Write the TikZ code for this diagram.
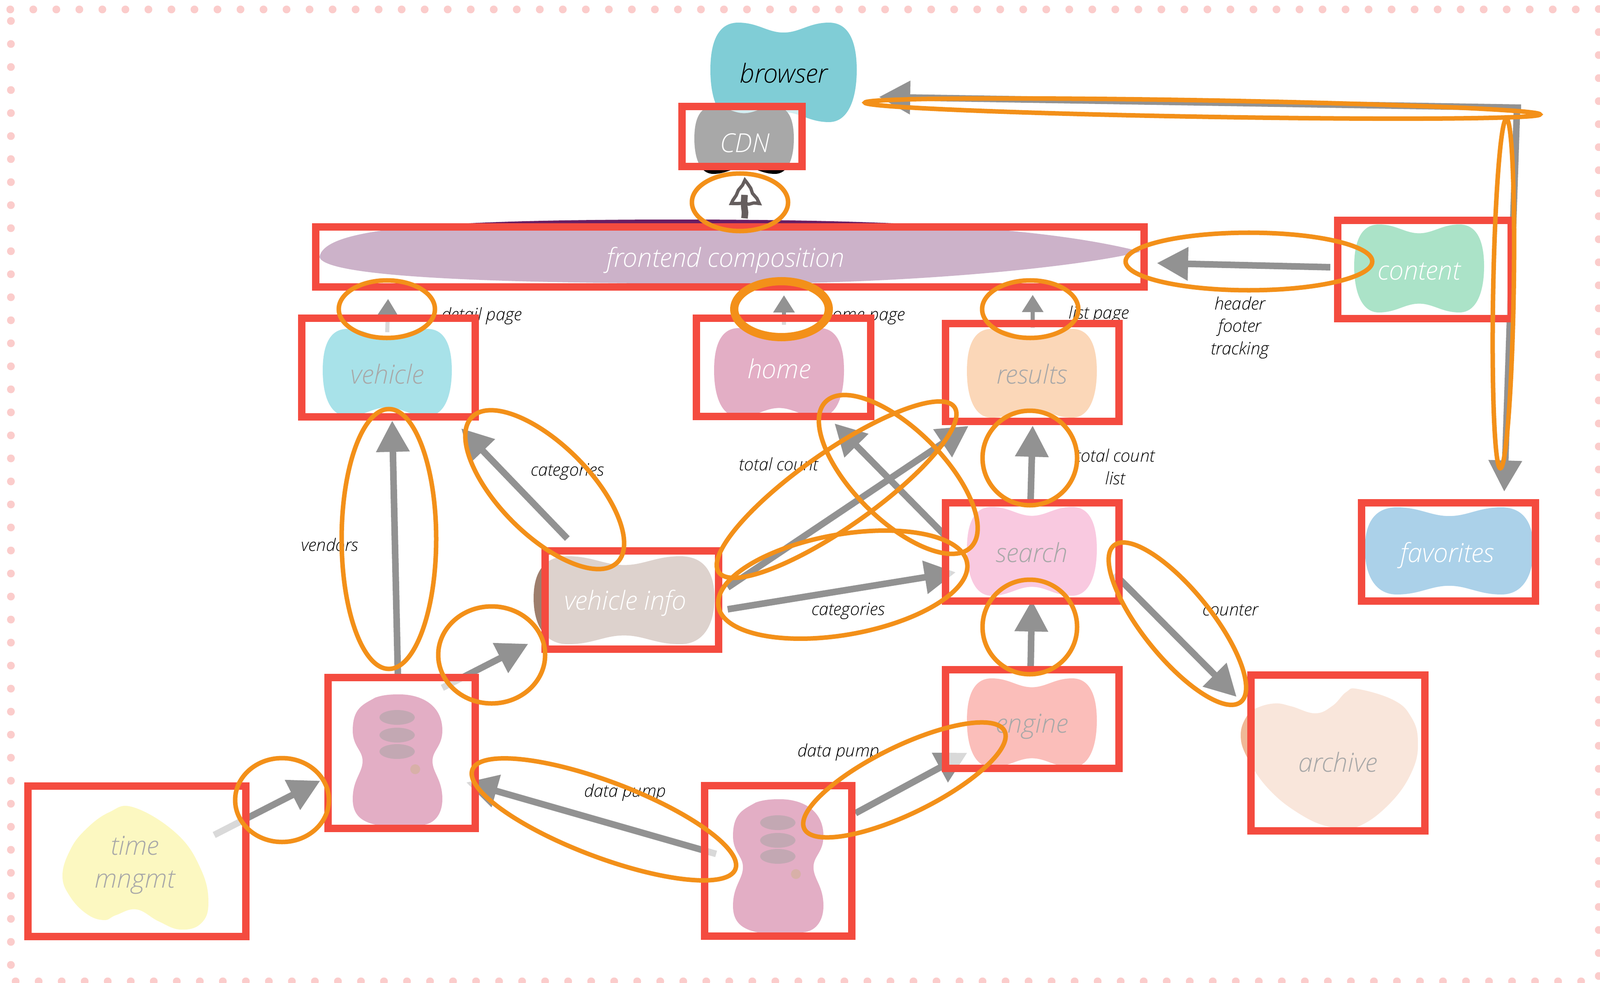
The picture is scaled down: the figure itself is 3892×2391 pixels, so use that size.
\documentclass[tikz,border=0pt]{standalone}
\usepackage{fontspec}
\setmainfont[ItalicFont={Open Sans Light Italic}]{Open Sans Light}
\usetikzlibrary{arrows.meta,shapes.geometric,decorations.pathmorphing}
\definecolor{redb}{HTML}{F44B3F}
\definecolor{orng}{HTML}{F39019}
\definecolor{gra}{HTML}{929292}
\definecolor{dotc}{HTML}{FBCCCB}
\definecolor{hand}{HTML}{655E5E}
\definecolor{cBrowser}{HTML}{80CDD6}
\definecolor{cFront}{HTML}{6A1F63}
\definecolor{cVehicle}{HTML}{00ACC1}
\definecolor{cHome}{HTML}{AD1457}
\definecolor{cResults}{HTML}{F58A2F}
\definecolor{cSearch}{HTML}{EE61A5}
\definecolor{cEngine}{HTML}{F44336}
\definecolor{cInfo}{HTML}{9E7E6D}
\definecolor{cContent}{HTML}{09AE5E}
\definecolor{cFav}{HTML}{0979C0}
\definecolor{cArchive}{HTML}{EFB897}
\definecolor{cTime}{HTML}{F7EB4C}
\definecolor{cPill}{HTML}{520023}
\definecolor{cSpot}{HTML}{8D1800}
\tikzset{
  redbox/.style={draw=redb,line width=.18cm,fill=white,fill opacity=.66,inner sep=0pt,outer sep=0pt,rectangle},
  hlell/.style={draw=orng,line width=.11cm,ellipse,inner sep=0pt,outer sep=0pt},
  arr/.style={draw=gra,line width=.16cm,-{Triangle[length=.76cm,width=.78cm]}},
  smallarr/.style={draw=gra,line width=.1cm,-{Triangle[length=.42cm,width=.5cm]}},
  lab/.style={font=\fontsize{11.9}{15.6}\selectfont\itshape,align=center,inner sep=0pt,text=black},
  big/.style={font=\fontsize{18.1}{22.5}\selectfont\itshape,align=center,inner sep=0pt},
  handline/.style={draw=hand,decorate,decoration={random steps,segment length=4pt,amplitude=.5pt}},
}
\newcommand\hbone[5]{\begin{scope}[shift={(#2,#3)},x=#4*0.01cm,y=-#5*0.01cm]
 \fill[#1] (0,-.8) .. controls (.22,-.8) and (.35,-1) .. (.62,-1) .. controls (.88,-1) and (1,-.65) .. (1,-.05)
 .. controls (1,.55) and (.88,1) .. (.62,1) .. controls (.35,1) and (.22,.8) .. (0,.8)
 .. controls (-.22,.8) and (-.35,1) .. (-.62,1) .. controls (-.88,1) and (-1,.55) .. (-1,-.05)
 .. controls (-1,-.65) and (-.88,-1) .. (-.62,-1) .. controls (-.35,-1) and (-.22,-.8) .. (0,-.8) -- cycle;
 \end{scope}}
\newcommand\vbone[5]{\begin{scope}[shift={(#2,#3)},x=#4*0.01cm,y=-#5*0.01cm]
 \fill[#1] (.05,-1) .. controls (.5,-1) and (1,-.85) .. (1,-.45) .. controls (1,-.2) and (.78,-.15) .. (.78,0.02)
 .. controls (.78,.2) and (1,.3) .. (1,.6) .. controls (1,.85) and (.8,1) .. (.5,1)
 -- (-.45,1) .. controls (-.8,.95) and (-1,.85) .. (-1,.6) .. controls (-1,.3) and (-.78,.2) .. (-.78,0.02)
 .. controls (-.78,-.15) and (-1,-.2) .. (-1,-.45) .. controls (-1,-.8) and (-.75,-.85) .. (-.5,-.95) .. controls (-.3,-1) and (-.1,-1) .. (.05,-1) -- cycle;
 \end{scope}}
\newcommand\bx[5]{\pgfmathsetmacro\bcx{(#2+#4)/2}\pgfmathsetmacro\bcy{(#3+#5)/2}%
 \pgfmathsetmacro\bw{(#4-#2-18)*0.01}\pgfmathsetmacro\bh{(#5-#3-18)*0.01}%
 \node[redbox,minimum width=\bw cm,minimum height=\bh cm] (#1) at (\bcx,\bcy) {};}
\newcommand\hl[7][]{\pgfmathsetmacro\bw{2*#5*0.01}\pgfmathsetmacro\bh{2*#6*0.01}%
 \node[hlell,minimum width=\bw cm,minimum height=\bh cm,rotate=#7,#1] (#2) at (#3,#4) {};}
\newcommand\conn[6][arr]{\coordinate (#2a) at (#3,#4); \coordinate (#2b) at (#5,#6);
 \draw[#1] (#2a) -- (#2b);}
\begin{document}
\begin{tikzpicture}[x=.01cm,y=-.01cm]
\useasboundingbox (0,0) rectangle (3892,2391);
% dotted frame
\foreach \k in {0,...,68} {\fill[dotc] ({25+56*\k},23) circle[radius=9.5];}
\foreach \k in {0,...,68} {\fill[dotc] ({38+56*\k},2387) circle[radius=9.5];}
\foreach \k in {0,...,41} {\fill[dotc] (26.5,{51+56*\k}) circle[radius=9.5];}
\foreach \k in {0,...,42} {\fill[dotc] (3889,{22+56*\k}) circle[radius=9.5];}
% blobs
\hbone{cBrowser}{1906}{176}{178}{121}
\hbone{black}{1810}{341}{121}{82}
\fill[cFront] (777,625) .. controls (790,560) and (1000,534) .. (1650,534) .. controls (2200,534) and (2550,555) .. (2775,612)
 .. controls (2650,645) and (2250,690) .. (1800,690) .. controls (1300,690) and (790,680) .. (777,625) -- cycle;
\hbone{cVehicle}{942}{906}{157}{106}
\hbone{cHome}{1895}{906}{158}{108}
\hbone{cResults}{2510}{908}{158}{108}
\hbone{cSearch}{2510}{1341}{158}{108}
\hbone{cEngine}{2510}{1758}{158}{108}
\hbone{cInfo}{1518}{1460}{220}{107}
\hbone{cContent}{3452}{653}{158}{107}
\hbone{cFav}{3525}{1340}{205}{106}
\fill[cArchive] plot[smooth cycle,tension=.7] coordinates {(3304,1676) (3390,1703) (3432,1743) (3449,1800) (3436,1873) (3382,1953) (3302,2011) (3233,2011) (3157,1977) (3084,1917) (3034,1843) (3018,1787) (3034,1740) (3057,1722) (3101,1711) (3141,1718) (3199,1735) (3241,1717) (3275,1683)};
\fill[cTime] plot[smooth cycle,tension=.7] coordinates {(326,1964) (431,2029) (489,2115) (507,2195) (489,2246) (439,2261) (386,2241) (332,2212) (282,2226) (253,2238) (211,2223) (170,2180) (152,2130) (170,2069) (207,2019) (265,1976)};
\vbone{cHome}{967}{1848}{109}{159}
\vbone{cHome}{1893}{2106}{110}{162}
\foreach \yy in {1745,1788,1828} {\fill[cPill] (966,\yy) ellipse[x radius=43,y radius=18];}
\foreach \yy in {2001,2044,2083} {\fill[cPill] (1892,\yy) ellipse[x radius=43,y radius=18];}
\fill[cSpot] (1010,1871) circle[radius=12];
\fill[cSpot] (1936,2126) circle[radius=12];
% connectors
\conn{aTime}{521}{2031}{779}{1899}
\conn{aVend}{968}{1650}{954}{1023}
\conn{aServ}{1076}{1673}{1285}{1566}
\conn{aPumpL}{1742}{2077}{1134}{1903}
\conn{aPumpR}{2081}{1978}{2353}{1831}
\conn{aEng}{2507}{1626}{2510}{1460}
\conn{aSearch}{2507}{1216}{2512}{1035}
\conn{aHome}{2296}{1300}{2030}{1030}
\conn{aTotal}{1770}{1429}{2356}{1036}
\conn{aCatS}{1770}{1482}{2325}{1392}
\conn{aCatV}{1380}{1310}{1122}{1042}
\conn{aCount}{2711}{1396}{3008}{1695}
\conn{aCont}{3236}{650}{2814}{640}
\conn{aBrow}{3700}{262}{2138}{236}
\conn{aFav}{3690}{265}{3659}{1196}
\conn[smallarr]{aList}{2512}{798}{2512}{717}
\conn[smallarr]{aHomeUp}{1907}{790}{1907}{718}
\conn[smallarr]{aDetail}{942}{808}{944}{727}
\coordinate (aCdna) at (1811,531); \coordinate (aCdnb) at (1811,474);
\draw[handline,line width=.16cm] (aCdna) -- (aCdnb);
\draw[handline,line width=.08cm] (1812,438) -- (1779,495) -- (1847,495) -- cycle;
% labels
\node[lab] (l1) at (1172,769) {detail page};
\node[lab] (l2) at (2102,769) {home page};
\node[lab] (l3) at (2673,765) {list page};
\node[lab] (l4) at (3016,797) {header\\footer\\tracking};
\node[lab] (l5) at (1380,1147) {categories};
\node[lab] (l6) at (1894,1129) {total count};
\node[lab] (l7) at (2713,1135) {total count\\list};
\node[lab] (l8) at (802,1325) {vendors};
\node[lab] (l9) at (2063,1486) {categories};
\node[lab] (l10) at (2993,1484) {counter};
\node[lab] (l11) at (1521,1928) {data pump};
\node[lab] (l12) at (2040,1830) {data pump};
% blob texts
\node[big,text=black] (t1) at (1906,178) {browser};
\node[big,text=white] (t2) at (1812,348) {CDN};
\node[big,text=white] (t3) at (1765,633) {frontend composition};
\node[big,text=black] (t4) at (942,910) {vehicle};
\node[big,text=white] (t5) at (1895,897) {home};
\node[big,text=black] (t6) at (2510,910) {results};
\node[big,text=black] (t7) at (2510,1344) {search};
\node[big,text=black] (t8) at (2510,1767) {engine};
\node[big,text=white] (t9) at (1521,1467) {vehicle info};
\node[big,text=black] (t10) at (3254,1854) {archive};
\node[big,text=white] (t11) at (3452,660) {content};
\node[big,text=white] (t12) at (3520,1351) {favorites};
\node[big,text=black] (t13) at (328,2104) {time\\mngmt};
% boxes
\bx{bCdn}{1650}{250}{1960}{414}
\bx{bFront}{759}{543}{2792}{707}
\bx{bVehicle}{725}{765}{1165}{1023}
\bx{bHome}{1685}{765}{2127}{1022}
\bx{bResults}{2291}{778}{2731}{1034}
\bx{bSearch}{2291}{1214}{2731}{1471}
\bx{bContent}{3245}{527}{3685}{784}
\bx{bFav}{3303}{1214}{3744}{1471}
\bx{bInfo}{1317}{1331}{1757}{1588}
\bx{bEngine}{2291}{1620}{2731}{1878}
\bx{bServ2}{1705}{1902}{2081}{2286}
\bx{bServ1}{789}{1639}{1165}{2024}
\bx{bTime}{59}{1903}{607}{2287}
\bx{bArchive}{3034}{1633}{3475}{2030}
% highlights
\hl{h1}{1800}{492}{117}{70}{0}
\hl{h2}{941}{752}{117}{70}{0}
\hl[line width=.2cm]{h3}{1901}{752}{115}{68}{0}
\hl{h4}{2506}{752}{117}{70}{0}
\hl{h5}{3038}{636}{300}{70}{0}
\hl{h6}{2925}{264}{821}{20}{-1}
\hl{h7}{3657}{714}{425}{25}{89}
\hl{h8}{2505}{1114}{115}{115}{0}
\hl{h9}{2505}{1525}{115}{115}{0}
\hl{h10}{946}{1311}{115}{316}{0}
\hl{h11}{1196}{1593}{130}{118}{0}
\hl{h12}{686}{1946}{114}{102}{0}
\hl{h13}{1325}{1191}{250}{110}{-45}
\hl{h14}{2035}{1191}{350}{92}{35}
\hl{h15}{2050}{1422}{307}{122}{10}
\hl{h16}{2185}{1154}{250}{110}{-45}
\hl{h17}{2864}{1517}{245}{83}{-51}
\hl{h18}{1469}{1993}{342}{92}{-20.7}
\hl{h19}{2200}{1897}{271}{82}{26}
\end{tikzpicture}
\end{document}
